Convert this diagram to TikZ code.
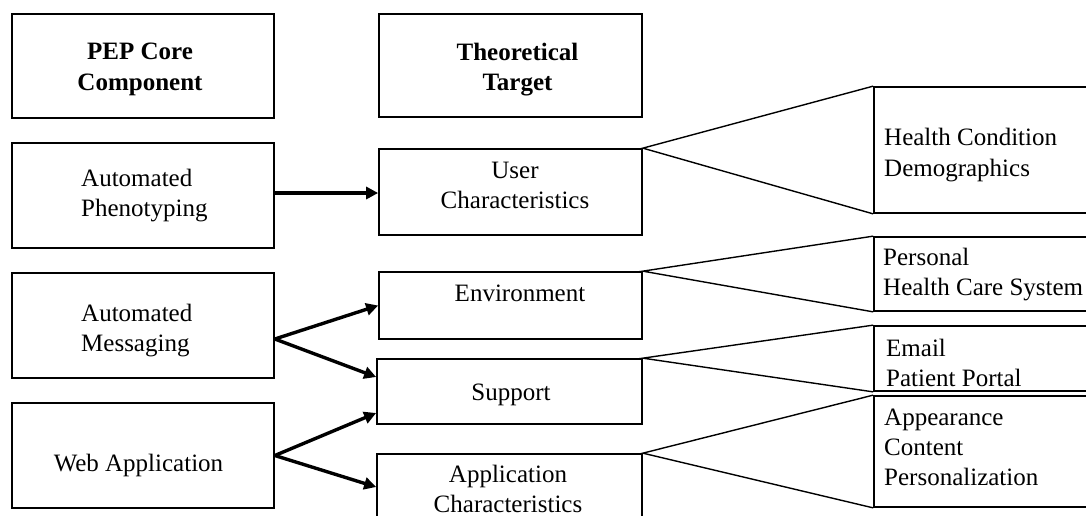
\documentclass[tikz,border=0pt]{standalone}
\usepackage{fontspec}
\setmainfont{Liberation Serif}
\usetikzlibrary{arrows.meta}
\newcommand\sx{\rule[-5pt]{0pt}{17pt}}
\begin{document}
\begin{tikzpicture}[x=1pt,y=-1pt,
  box/.style n args={2}{draw=black,line width=1.7pt,inner sep=0pt,minimum width=#1,minimum height=#2},
  txt/.style={font=\fontsize{25}{30.3}\selectfont,inner sep=0pt,align=center,text=black,yshift=-3pt},
  ltxt/.style={txt,align=left,anchor=west},
  arr/.style={line width=3.4pt,-{Triangle[length=12pt,width=12pt]}},
  fan/.style={line width=1.4pt,line join=miter}]
\useasboundingbox (0,0) rectangle (1086,515);
\clip (0,0) rectangle (1086,515);
% left column
\node[box={262pt}{104pt}] (pep) at (143,66) {};
\node[box={262pt}{105pt}] (ap) at (143,195.5) {};
\node[box={262pt}{105pt}] (am) at (143,325.5) {};
\node[box={262pt}{105pt}] (wa) at (143,455.5) {};
% middle column
\node[box={263pt}{103pt}] (tt) at (510.5,65.5) {};
\node[box={263pt}{86pt}] (uc) at (510.5,192) {};
\node[box={263pt}{67pt}] (env) at (510.5,305.5) {};
\node[box={265pt}{65pt}] (sup) at (509.5,391.5) {};
\node[box={265pt}{91pt}] (ac) at (509.5,499.5) {};
% right column
\node[box={226pt}{126pt}] (hc) at (987,150) {};
\node[box={226pt}{74pt}] (phcs) at (987,274) {};
\node[box={226pt}{65pt}] (em) at (987,358.5) {};
\node[box={226pt}{111pt}] (apc) at (987,451.5) {};
% texts
\node[txt,font=\fontsize{25}{30.3}\selectfont\bfseries] (pept) at (140,66.5) {\sx PEP Core\\\sx Component};
\node[txt,font=\fontsize{25}{30.3}\selectfont\bfseries] (ttt) at (517.5,66.5) {\sx Theoretical\\\sx Target};
\node[ltxt] (apt) at (81,192.5) {\sx Automated\\\sx Phenotyping};
\node[ltxt] (amt) at (81,327.5) {\sx Automated\\\sx Messaging};
\node[txt] (wat) at (138.5,462) {\sx Web Application};
\node[txt] (uct) at (515,185) {\sx User\\\sx Characteristics};
\node[txt] (envt) at (520,292.5) {\sx Environment};
\node[txt] (supt) at (511,392) {\sx Support};
\node[txt] (act) at (508,488) {\sx Application\\\sx Characteristics};
\node[ltxt] (hct) at (884,152) {\sx Health Condition\\\sx Demographics};
\node[ltxt] (phcst) at (883,271.7) {\sx Personal\\\sx Health Care System};
\node[ltxt] (emt) at (886,362) {\sx Email\\\sx Patient Portal};
\node[ltxt] (apct) at (884,446.7) {\sx Appearance\\\sx Content\\\sx Personalization};
% arrows
\coordinate (apo) at ([yshift=2.5pt]ap.east);
\coordinate (amo) at ([yshift=-13.5pt]am.east);
\coordinate (wao) at (wa.east);
\draw[arr] (apo) -- (apo -| uc.west);
\draw[arr] (amo) -- (env.west);
\draw[arr] (amo) -- ([yshift=14.5pt]sup.west);
\draw[arr] (wao) -- ([yshift=-21.5pt]sup.west);
\draw[arr] (wao) -- ([yshift=12.5pt]ac.west);
% fans
\draw[fan] (hc.north west) -- (uc.north east) -- (hc.south west);
\draw[fan] (phcs.north west) -- (env.north east) -- (phcs.south west);
\draw[fan] (em.north west) -- (sup.north east) -- (em.south west);
\draw[fan] (apc.north west) -- (ac.north east) -- (apc.south west);
\end{tikzpicture}
\end{document}
